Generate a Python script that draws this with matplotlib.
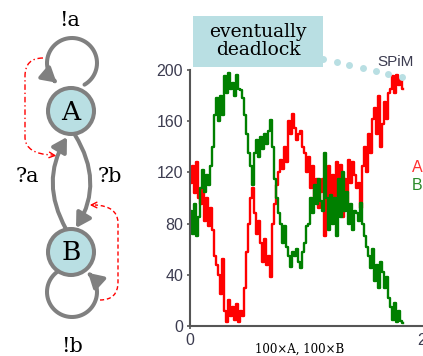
import numpy as np
import matplotlib.pyplot as plt
from matplotlib.patches import Circle, Rectangle, FancyArrowPatch, PathPatch
from matplotlib.path import Path

# Values (one sample every ~2 px)
red_A = [112, 125, 104, 128, 100,
         95, 108, 82, 100, 78, 92,
         75, 55, 48,
         40, 25, 52,
         12, 3, 20, 8,
         15, 5, 17, 3,
         12, 8,
         30, 58, 80,
         100, 108,
         88, 72, 82,
         65, 50, 68, 48, 55,
         38,
         80, 95, 110, 120,
         130, 123, 140, 128,
         160, 150, 166,
         155, 145, 150,
         152, 140,
         135, 120,
         132, 108, 125,
         100, 115, 92, 105,
         115, 70, 100,
         125, 95, 118, 92, 128,
         100, 126, 85, 115, 95,
         130, 112, 128, 118,
         108,
         112, 92,
         125, 140, 120,
         150, 135, 162,
         170, 150, 180,
         140, 158,
         175, 162, 182,
         185, 195, 182,
         196, 188, 194, 185]

green_B = [90, 72, 95, 70, 85,
           108, 122, 105, 118, 110, 125,
           140, 165, 178,
           160, 180, 165,
           195, 182, 198, 185,
           190, 180, 196, 185,
           184, 178,
           165, 150, 135,
           125, 110,
           135, 145, 132,
           148, 138, 150, 142, 152,
           161,
           140, 115, 100, 88,
           80, 65, 78, 62,
           55, 46, 58,
           55, 60, 50,
           45, 58,
           65, 78,
           80, 100, 88,
           110, 95, 115, 98,
           90, 135, 100,
           75, 102, 80, 100, 70,
           115, 85, 120, 90, 105,
           80, 95, 75, 90,
           88,
           82, 96,
           80, 70, 62,
           55, 45, 60,
           35, 48, 30,
           50, 42,
           30, 38, 22,
           15, 5, 18,
           3, 12, 4, 2]

t = np.linspace(0.8, 177.5, len(red_A))

y_ticks = [0, 40, 80, 120, 160, 200]
x_ticks = [0, 200]

gray = '#808080'
fill = '#b9dfe3'
tick_col = '#3c3c50'

fig = plt.figure(figsize=(4.23, 3.56), dpi=100)

# chart
ax = fig.add_axes([190 / 423, 30 / 356, 240.5 / 423, 256 / 356])
ax.plot(t, red_A, color='red', lw=1.7, drawstyle='steps-mid')
ax.plot(t, green_B, color='green', lw=1.7, drawstyle='steps-mid')
ax.set_xlim(0, 200)
ax.set_ylim(0, 200)
ax.set_yticks(y_ticks)
ax.set_xticks(x_ticks)
for s in ['top', 'right']:
    ax.spines[s].set_visible(False)
for s in ['left', 'bottom']:
    ax.spines[s].set_color('#555555')
    ax.spines[s].set_linewidth(1.5)
ax.tick_params(direction='out', length=2.5, width=1.2, color='#555555',
               labelsize=11.5, labelcolor=tick_col, pad=2.5)
for lab in ax.get_xticklabels() + ax.get_yticklabels():
    lab.set_family('Liberation Sans')
ax.patch.set_alpha(0)

fig.text(300 / 423, 1 - 349 / 356, '100\u00d7A, 100\u00d7B', ha='center', va='center',
         fontsize=8.5, family='DejaVu Serif')

# drawing layer in pixel units
d = fig.add_axes([0, 0, 1, 1])
d.set_xlim(0, 423)
d.set_ylim(356, 0)
d.axis('off')


def arc(cx, cy, r, a0, a1):
    a = np.radians(np.linspace(a0, a1, 60))
    return Path(np.column_stack([cx + r * np.cos(a), cy - r * np.sin(a)]))


def gray_arrow(path):
    d.add_patch(FancyArrowPatch(path=path, arrowstyle='-|>,head_length=0.6,head_width=0.35',
                                mutation_scale=14, color=gray, lw=2.9, zorder=2,
                                shrinkA=0, shrinkB=0))


# self loops
gray_arrow(arc(72, 63, 25, -60, 232))
gray_arrow(arc(72, 292, 25, 120, 410))

# A <-> B
gray_arrow(Path([(66, 229), (40, 182), (67, 137)], [Path.MOVETO, Path.CURVE3, Path.CURVE3]))
gray_arrow(Path([(75, 135), (104, 182), (76, 228)], [Path.MOVETO, Path.CURVE3, Path.CURVE3]))

for cy, name in [(111, 'A'), (252, 'B')]:
    d.add_patch(Circle((71, cy), 23, fc=fill, ec=gray, lw=2.9, zorder=3))
    d.text(71, cy + 1, name, ha='center', va='center', fontsize=19,
           family='DejaVu Serif', zorder=4)

for x, y, s in [(70, 21, '!a'), (72, 346, '!b'), (27, 177, '?a'), (110, 177, '?b')]:
    d.text(x, y, s, ha='center', va='center', fontsize=15, family='DejaVu Serif')

# red dashed hints
p1 = Path([(43, 58), (25, 58), (25, 76), (25, 138), (26, 154), (52, 155)],
          [Path.MOVETO, Path.CURVE3, Path.CURVE3, Path.LINETO, Path.CURVE3, Path.CURVE3])
d.add_patch(PathPatch(p1, fill=False, ec='red', lw=1, ls=(0, (4, 2, 1, 2))))
d.annotate('', xy=(59, 156), xytext=(50, 155),
           arrowprops=dict(arrowstyle='->', color='red', lw=1))
p2 = Path([(100, 300), (118, 300), (118, 282), (118, 222), (117, 206), (95, 205)],
          [Path.MOVETO, Path.CURVE3, Path.CURVE3, Path.LINETO, Path.CURVE3, Path.CURVE3])
d.add_patch(PathPatch(p2, fill=False, ec='red', lw=1, ls=(0, (3, 2))))
d.annotate('', xy=(87, 205), xytext=(96, 205),
           arrowprops=dict(arrowstyle='->', color='red', lw=1))

# callout
d.add_patch(Rectangle((193, 16), 130, 51, fc=fill, ec='none', zorder=5))
d.text(258, 41, 'eventually\ndeadlock', ha='center', va='center', fontsize=13.5,
       family='DejaVu Serif', linespacing=1.0, zorder=6)
d.plot([323, 337, 349, 363, 376, 388, 402], [59, 62, 65, 68, 71, 74, 77], 'o',
       ms=5, color=fill, mec='none')
d.text(396, 62, 'SPiM', ha='center', va='center', fontsize=11, color=tick_col,
       family='Liberation Sans')

# series labels (cut by the edge)
d.text(412, 168, 'A', ha='left', va='center', fontsize=11.5, color='#ff3030',
       family='Liberation Sans')
d.text(412, 185, 'B', ha='left', va='center', fontsize=11.5, color='#2a8a2a',
       family='Liberation Sans')

fig.savefig('out.png', dpi=100)
